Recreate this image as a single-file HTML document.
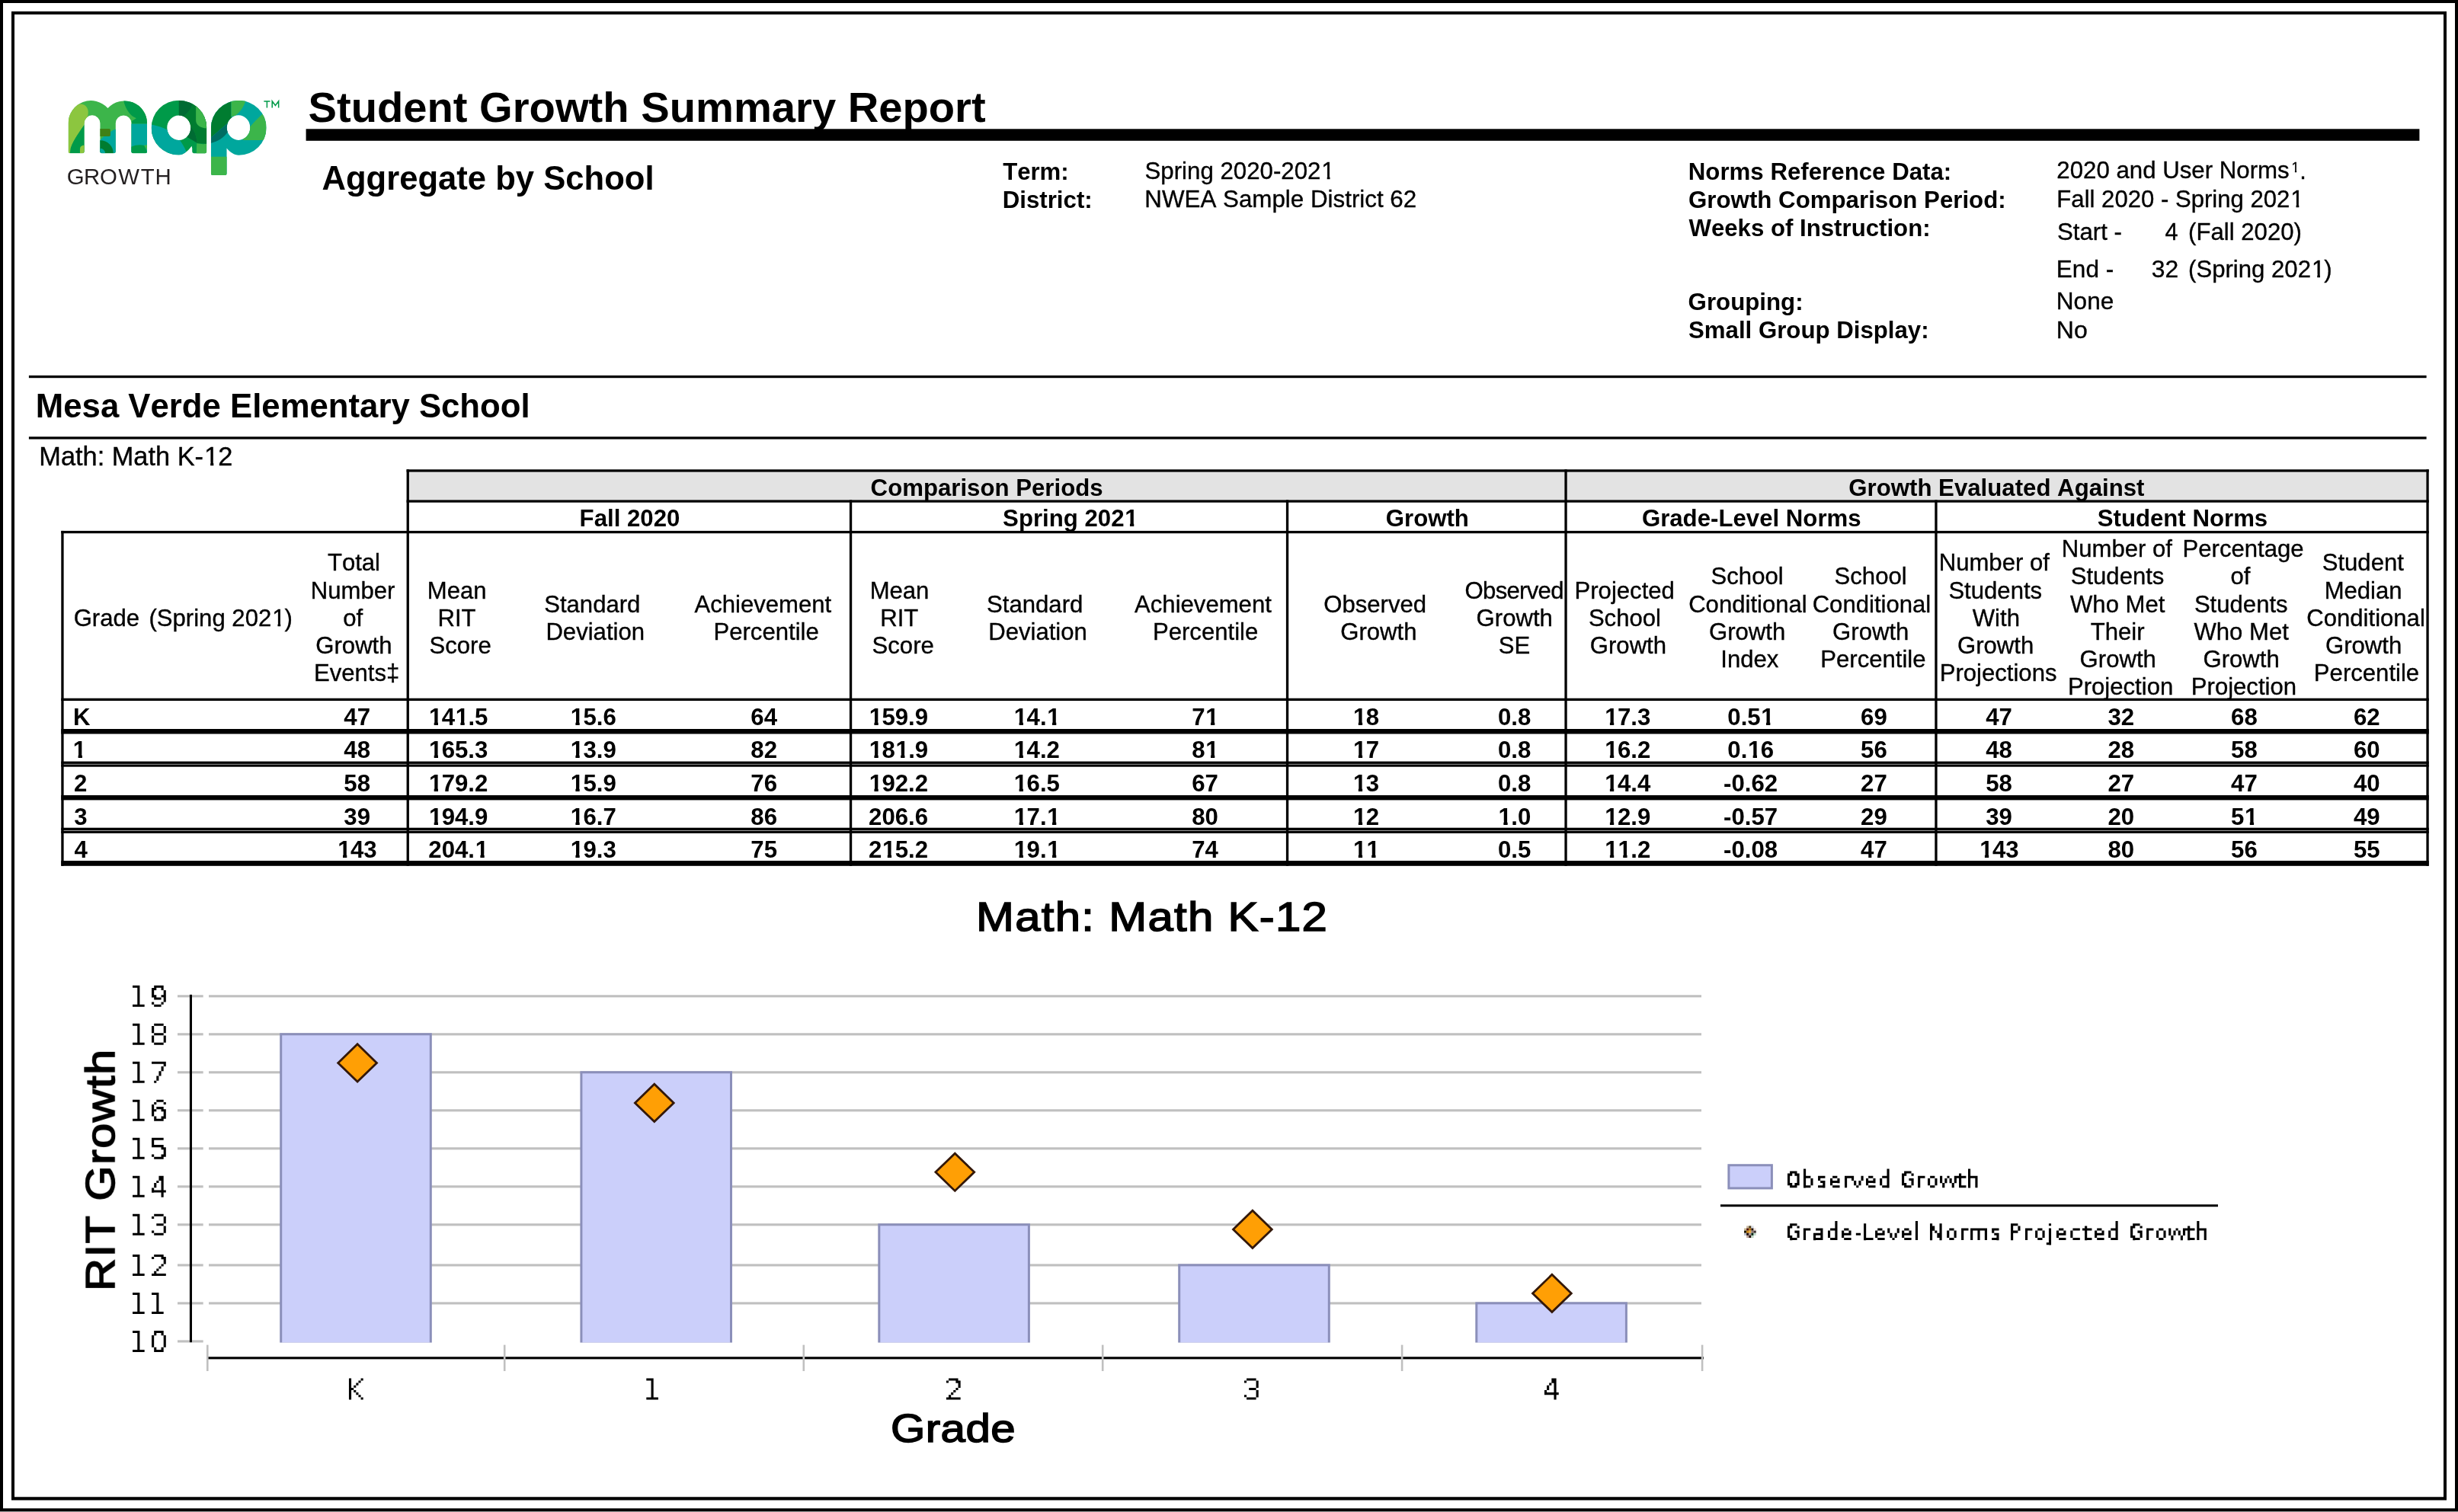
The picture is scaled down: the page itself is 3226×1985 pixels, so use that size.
<!DOCTYPE html>
<html><head><meta charset="utf-8"><title>Student Growth Summary Report</title>
<style>
html,body{margin:0;padding:0;background:#fff;}
body{width:3226px;height:1985px;position:relative;overflow:hidden;font-family:"Liberation Sans",sans-serif;color:#000;font-kerning:none;}
.t{position:absolute;white-space:pre;line-height:1;}
.c{color:#000;}
.o,.ob{display:inline-block;line-height:1;position:relative;left:.03em;}
.ob{left:.02em;}
.o{clip-path:polygon(0 0,100% 0,100% .70em,.356em .70em,.356em 100%,.236em 100%,.236em .70em,0 .70em);}
.ob{clip-path:polygon(0 0,100% 0,100% .665em,.387em .665em,.387em 100%,.217em 100%,.217em .665em,0 .665em);}
svg{position:absolute;left:0;top:0;}
#txt{position:absolute;left:0;top:0;width:3226px;height:1985px;will-change:transform;}
</style></head><body>
<svg width="3226" height="1985" viewBox="0 0 3226 1985">
<path fill="#000" fill-rule="evenodd" d="M0 0H3226V1984.3H0Z M4 4V1980.3H3222V4Z"/>
<path fill="#000" fill-rule="evenodd" d="M15 15H3211V1969.4H15Z M19 19V1965.3H3207V19Z"/>
<rect x="0.00" y="1984.30" width="3226.00" height="0.70" fill="#888" />
<rect x="401.60" y="169.30" width="2773.80" height="15.50" fill="#000" />
<rect x="37.90" y="492.90" width="3146.70" height="3.30" fill="#000" />
<rect x="37.90" y="573.30" width="3146.70" height="3.30" fill="#000" />
<rect x="536.90" y="619.50" width="2647.50" height="37.00" fill="#e3e3e3" />
<rect x="80.30" y="696.90" width="3.30" height="439.90" fill="#000" />
<rect x="533.60" y="616.30" width="3.30" height="520.50" fill="#000" />
<rect x="1114.90" y="656.40" width="3.30" height="480.40" fill="#000" />
<rect x="1687.90" y="656.40" width="3.30" height="480.40" fill="#000" />
<rect x="2053.40" y="616.30" width="3.30" height="520.50" fill="#000" />
<rect x="2539.30" y="656.40" width="3.30" height="480.40" fill="#000" />
<rect x="3184.40" y="616.30" width="3.30" height="520.50" fill="#000" />
<rect x="533.60" y="616.30" width="2654.10" height="3.30" fill="#000" />
<rect x="533.60" y="656.40" width="2654.10" height="3.30" fill="#000" />
<rect x="80.30" y="696.90" width="3107.40" height="3.30" fill="#000" />
<rect x="80.30" y="916.70" width="3107.40" height="3.30" fill="#000" />
<rect x="80.30" y="957.00" width="3107.40" height="6.50" fill="#000" />
<rect x="80.30" y="999.60" width="3107.40" height="3.30" fill="#000" />
<rect x="80.30" y="1003.50" width="3107.40" height="3.20" fill="#000" />
<rect x="80.30" y="1044.00" width="3107.40" height="6.40" fill="#000" />
<rect x="80.30" y="1086.70" width="3107.40" height="3.40" fill="#000" />
<rect x="80.30" y="1090.70" width="3107.40" height="3.30" fill="#000" />
<rect x="80.30" y="1130.00" width="3107.40" height="6.80" fill="#000" />
<rect x="274.00" y="1306.25" width="1959.00" height="3.12" fill="#c0c0c0" />
<rect x="274.00" y="1356.25" width="1959.00" height="3.12" fill="#c0c0c0" />
<rect x="274.00" y="1406.25" width="1959.00" height="3.12" fill="#c0c0c0" />
<rect x="274.00" y="1456.25" width="1959.00" height="3.12" fill="#c0c0c0" />
<rect x="274.00" y="1506.25" width="1959.00" height="3.12" fill="#c0c0c0" />
<rect x="274.00" y="1556.25" width="1959.00" height="3.12" fill="#c0c0c0" />
<rect x="274.00" y="1606.25" width="1959.00" height="3.12" fill="#c0c0c0" />
<rect x="274.00" y="1659.38" width="1959.00" height="3.12" fill="#c0c0c0" />
<rect x="274.00" y="1709.38" width="1959.00" height="3.12" fill="#c0c0c0" />
<rect x="233.00" y="1306.25" width="33.70" height="3.12" fill="#c0c0c0" />
<rect x="233.00" y="1356.25" width="33.70" height="3.12" fill="#c0c0c0" />
<rect x="233.00" y="1406.25" width="33.70" height="3.12" fill="#c0c0c0" />
<rect x="233.00" y="1456.25" width="33.70" height="3.12" fill="#c0c0c0" />
<rect x="233.00" y="1506.25" width="33.70" height="3.12" fill="#c0c0c0" />
<rect x="233.00" y="1556.25" width="33.70" height="3.12" fill="#c0c0c0" />
<rect x="233.00" y="1606.25" width="33.70" height="3.12" fill="#c0c0c0" />
<rect x="233.00" y="1659.38" width="33.70" height="3.12" fill="#c0c0c0" />
<rect x="233.00" y="1709.38" width="33.70" height="3.12" fill="#c0c0c0" />
<rect x="233.00" y="1759.38" width="33.70" height="3.12" fill="#c0c0c0" />
<rect x="248.90" y="1305.80" width="3.10" height="456.40" fill="#000" />
<rect x="368.70" y="1357.75" width="196.60" height="406.35" fill="#cbcffa" stroke="#8b8fba" stroke-width="3"/>
<rect x="762.90" y="1407.75" width="196.60" height="356.35" fill="#cbcffa" stroke="#8b8fba" stroke-width="3"/>
<rect x="1153.80" y="1607.75" width="196.60" height="156.35" fill="#cbcffa" stroke="#8b8fba" stroke-width="3"/>
<rect x="1547.70" y="1660.88" width="196.60" height="103.22" fill="#cbcffa" stroke="#8b8fba" stroke-width="3"/>
<rect x="1937.80" y="1710.88" width="196.60" height="53.22" fill="#cbcffa" stroke="#8b8fba" stroke-width="3"/>
<rect x="360.00" y="1762.60" width="1800.00" height="4.00" fill="#fff" />
<rect x="271.00" y="1781.25" width="1965.00" height="3.12" fill="#000" />
<rect x="271.00" y="1765.60" width="2.60" height="34.40" fill="#c0c0c0" />
<rect x="660.90" y="1765.60" width="2.60" height="34.40" fill="#c0c0c0" />
<rect x="1053.50" y="1765.60" width="2.60" height="34.40" fill="#c0c0c0" />
<rect x="1445.90" y="1765.60" width="2.60" height="34.40" fill="#c0c0c0" />
<rect x="1838.80" y="1765.60" width="2.60" height="34.40" fill="#c0c0c0" />
<rect x="2232.80" y="1765.60" width="2.60" height="34.40" fill="#c0c0c0" />
<path d="M443.7 1395.4L469.1 1370.8L494.5 1395.4L469.1 1420.0Z" fill="#ff9f05" stroke="#33180a" stroke-width="2.8" stroke-linejoin="miter"/>
<path d="M833.4 1447.9L858.8 1423.3L884.2 1447.9L858.8 1472.5Z" fill="#ff9f05" stroke="#33180a" stroke-width="2.8" stroke-linejoin="miter"/>
<path d="M1227.9 1538.8L1253.3 1514.2L1278.7 1538.8L1253.3 1563.4Z" fill="#ff9f05" stroke="#33180a" stroke-width="2.8" stroke-linejoin="miter"/>
<path d="M1618.5 1613.9L1643.9 1589.3L1669.3 1613.9L1643.9 1638.5Z" fill="#ff9f05" stroke="#33180a" stroke-width="2.8" stroke-linejoin="miter"/>
<path d="M2011.5 1697.9L2036.9 1673.3L2062.3 1697.9L2036.9 1722.5Z" fill="#ff9f05" stroke="#33180a" stroke-width="2.8" stroke-linejoin="miter"/>
<rect x="2268.9" y="1529.7" width="56.5" height="30.2" fill="#cbcffa" stroke="#8b8fba" stroke-width="3"/>
<rect x="2258.00" y="1581.25" width="653.00" height="3.00" fill="#000" />
<rect x="2292.18" y="1609.38" width="3.20" height="3.20" fill="#c8b69a" />
<rect x="2295.30" y="1609.38" width="3.20" height="3.20" fill="#4a3a18" />
<rect x="2298.43" y="1609.38" width="3.20" height="3.20" fill="#d8dce6" />
<rect x="2289.05" y="1612.50" width="3.20" height="3.20" fill="#c6b694" />
<rect x="2292.18" y="1612.50" width="3.20" height="3.20" fill="#4e1000" />
<rect x="2295.30" y="1612.50" width="3.20" height="3.20" fill="#b36a00" />
<rect x="2298.43" y="1612.50" width="3.20" height="3.20" fill="#1e0e08" />
<rect x="2301.55" y="1612.50" width="3.20" height="3.20" fill="#efe2dc" />
<rect x="2289.05" y="1615.62" width="3.20" height="3.20" fill="#1e1600" />
<rect x="2292.18" y="1615.62" width="3.20" height="3.20" fill="#c8820a" />
<rect x="2295.30" y="1615.62" width="3.20" height="3.20" fill="#e8a838" />
<rect x="2298.43" y="1615.62" width="3.20" height="3.20" fill="#8e7c78" />
<rect x="2301.55" y="1615.62" width="3.20" height="3.20" fill="#3e3030" />
<rect x="2289.05" y="1618.75" width="3.20" height="3.20" fill="#b8bcc8" />
<rect x="2292.18" y="1618.75" width="3.20" height="3.20" fill="#1e0c0c" />
<rect x="2295.30" y="1618.75" width="3.20" height="3.20" fill="#a89090" />
<rect x="2298.43" y="1618.75" width="3.20" height="3.20" fill="#062814" />
<rect x="2301.55" y="1618.75" width="3.20" height="3.20" fill="#c4dccc" />
<rect x="2292.18" y="1621.88" width="3.20" height="3.20" fill="#b8a098" />
<rect x="2295.30" y="1621.88" width="3.20" height="3.20" fill="#1e0c08" />
<rect x="2298.43" y="1621.88" width="3.20" height="3.20" fill="#c0d8c4" />
<defs>
<clipPath id="cm"><path d="M112 920V485A345 345 0 0 1 715 257A345 345 0 0 1 1315 485V920Q1315 945 1290 945H1100Q1075 945 1075 920V485A120 120 0 0 0 835 485V920Q835 945 810 945H623Q598 945 598 920V486A121.5 121.5 0 0 0 355 486V920Q355 945 330 945H137Q112 945 112 920Z"/></clipPath>
<clipPath id="ca"><path clip-rule="evenodd" d="M1995 835C1950 900 1870 972 1797 972A417 417 0 0 1 1380 555A417 417 0 0 1 1797 138A428 417 0 0 1 2225 555V920Q2225 945 2200 945H2028Q2003 945 2003 920V870Z M1980 555A180 190 0 1 0 1620 555A180 190 0 1 0 1980 555Z"/></clipPath>
<clipPath id="cp"><path clip-rule="evenodd" d="M465 1360V602A460 452 0 0 1 925 150A456 452 0 0 1 1381 602A456 452 0 0 1 925 1054C850 1054 780 1010 725 940V1360Q725 1385 700 1385H490Q465 1385 465 1360Z M1112 600A192 205 0 1 0 728 600A192 205 0 1 0 1112 600Z"/></clipPath>
</defs>
<g transform="translate(80 120) scale(0.085985)">
<g clip-path="url(#cm)">
<rect x="0" y="0" width="1400" height="1000" fill="#3cb54a"/>
<path fill="#8cc63f" d="M0 0L250 120L250 200C330 170 405 215 415 300C420 380 385 460 355 510C300 600 200 720 150 860L135 960L0 960Z"/>
<path fill="#009a49" d="M360 503C300 600 200 720 150 860L135 960L360 960Z"/>
<path fill="#8cc63f" d="M290 960V880Q290 822 360 820V960Z"/>
<path fill="#009a49" d="M955 100L955 135C975 240 1030 330 1095 380L1150 410L1085 450L1078 495L1330 495L1330 100Z"/>
<rect x="1070" y="495" width="270" height="480" fill="#00a79d"/>
<path fill="#009a49" d="M1070 845Q1170 805 1275 825L1330 960L1070 960Z"/>
<path fill="#3cb54a" d="M1268 822L1330 815L1330 930Z"/>
<path fill="#00a79d" d="M845 572C760 602 660 672 590 752L590 960L845 960Z"/>
<path fill="#3f8116" d="M590 570H735Q755 570 755 590V665Q755 685 735 685H590Z"/>
<circle cx="598" cy="948" r="202" fill="#007c30"/>
<circle cx="598" cy="948" r="78" fill="#00a79d"/>
</g>
<g clip-path="url(#ca)">
<rect x="1350" y="100" width="900" height="900" fill="#009a49"/>
<path fill="#007c30" d="M2010 100L2010 185C1990 260 1950 320 1890 365L1800 555L1985 540C2040 600 2075 700 2075 790L2240 800L2240 100Z"/>
<path fill="#006b33" d="M1800 100V555L1890 365C1950 320 1990 260 2010 185L2010 100Z"/>
<path fill="#3cb54a" d="M2060 100V440C2060 520 2130 560 2225 565L2240 565V100Z"/>
<path fill="#006b33" d="M1985 540C2040 600 2075 700 2075 785L1930 700L1800 555Z"/>
<path fill="#00a79d" d="M1350 498C1450 520 1550 545 1625 588L1800 555L1815 745C1850 800 1890 860 1912 915L1900 1000L1350 1000Z"/>
<path fill="#3cb54a" d="M2072 795Q2150 810 2240 800V960H2068Z"/>
</g>
</g>
<g transform="translate(240 120) scale(0.079365)">
<g clip-path="url(#cp)">
<rect x="400" y="100" width="1050" height="1350" fill="#00a79d"/>
<path fill="#007c30" d="M440 100H800V420L920 600L735 530L440 782Z"/>
<path fill="#3cb54a" d="M800 100V420L870 400C950 340 1010 250 1035 165L1035 100Z"/>
<path fill="#3cb54a" d="M1322 368Q1200 480 1120 575L920 600L1000 805L1420 805L1420 368Z"/>
<path fill="#006d62" d="M440 782L735 530L920 600L735 680C680 760 580 830 440 862Z"/>
<rect x="440" y="1080" width="320" height="340" fill="#3cb54a"/>
</g>
<path fill="none" stroke="#009a49" stroke-width="19" d="M1340 163H1442M1391 163V272M1477 272V160L1530 232L1583 160V272"/>
</g>
<path fill="#000" d="M174.05 1293.75h9.38v3.12h-9.38zM180.30 1296.88h3.12v3.12h-3.12zM180.30 1300.00h3.12v3.12h-3.12zM180.30 1303.12h3.12v3.12h-3.12zM180.30 1306.25h3.12v3.12h-3.12zM180.30 1309.38h3.12v3.12h-3.12zM180.30 1312.50h3.12v3.12h-3.12zM180.30 1315.62h3.12v3.12h-3.12zM174.05 1318.75h15.62v3.12h-15.62zM180.30 1293.75h3.12v28.12h-3.12zM202.18 1293.75h12.50v3.12h-12.50zM199.05 1296.88h6.25v3.12h-6.25zM211.55 1296.88h3.12v3.12h-3.12zM199.05 1300.00h3.12v3.12h-3.12zM214.68 1300.00h3.12v3.12h-3.12zM199.05 1303.12h3.12v3.12h-3.12zM214.68 1303.12h3.12v3.12h-3.12zM199.05 1306.25h6.25v3.12h-6.25zM211.55 1306.25h6.25v3.12h-6.25zM202.18 1309.38h9.38v3.12h-9.38zM214.68 1309.38h3.12v3.12h-3.12zM214.68 1312.50h3.12v3.12h-3.12zM199.05 1315.62h3.12v3.12h-3.12zM211.55 1315.62h3.12v3.12h-3.12zM202.18 1318.75h9.38v3.12h-9.38zM199.05 1296.88h3.12v12.50h-3.12zM202.18 1293.75h3.12v6.25h-3.12zM202.18 1306.25h3.12v6.25h-3.12zM211.55 1293.75h3.12v6.25h-3.12zM214.68 1300.00h3.12v15.62h-3.12zM174.05 1343.75h9.38v3.12h-9.38zM180.30 1346.88h3.12v3.12h-3.12zM180.30 1350.00h3.12v3.12h-3.12zM180.30 1353.12h3.12v3.12h-3.12zM180.30 1356.25h3.12v3.12h-3.12zM180.30 1359.38h3.12v3.12h-3.12zM180.30 1362.50h3.12v3.12h-3.12zM180.30 1365.62h3.12v3.12h-3.12zM174.05 1368.75h15.62v3.12h-15.62zM180.30 1343.75h3.12v28.12h-3.12zM202.18 1343.75h12.50v3.12h-12.50zM199.05 1346.88h3.12v3.12h-3.12zM214.68 1346.88h3.12v3.12h-3.12zM199.05 1350.00h3.12v3.12h-3.12zM214.68 1350.00h3.12v3.12h-3.12zM199.05 1353.12h3.12v3.12h-3.12zM214.68 1353.12h3.12v3.12h-3.12zM202.18 1356.25h12.50v3.12h-12.50zM199.05 1359.38h3.12v3.12h-3.12zM214.68 1359.38h3.12v3.12h-3.12zM199.05 1362.50h3.12v3.12h-3.12zM214.68 1362.50h3.12v3.12h-3.12zM199.05 1365.62h3.12v3.12h-3.12zM214.68 1365.62h3.12v3.12h-3.12zM202.18 1368.75h12.50v3.12h-12.50zM199.05 1346.88h3.12v9.38h-3.12zM199.05 1359.38h3.12v9.38h-3.12zM214.68 1346.88h3.12v9.38h-3.12zM214.68 1359.38h3.12v9.38h-3.12zM174.05 1393.75h9.38v3.12h-9.38zM180.30 1396.88h3.12v3.12h-3.12zM180.30 1400.00h3.12v3.12h-3.12zM180.30 1403.12h3.12v3.12h-3.12zM180.30 1406.25h3.12v3.12h-3.12zM180.30 1409.38h3.12v3.12h-3.12zM180.30 1412.50h3.12v3.12h-3.12zM180.30 1415.62h3.12v3.12h-3.12zM174.05 1418.75h15.62v3.12h-15.62zM180.30 1393.75h3.12v28.12h-3.12zM199.05 1393.75h18.75v3.12h-18.75zM214.68 1396.88h3.12v3.12h-3.12zM211.55 1400.00h3.12v3.12h-3.12zM211.55 1403.12h3.12v3.12h-3.12zM208.43 1406.25h3.12v3.12h-3.12zM208.43 1409.38h3.12v3.12h-3.12zM205.30 1412.50h3.12v3.12h-3.12zM205.30 1415.62h3.12v3.12h-3.12zM202.18 1418.75h3.12v3.12h-3.12zM205.30 1412.50h3.12v6.25h-3.12zM208.43 1406.25h3.12v6.25h-3.12zM211.55 1400.00h3.12v6.25h-3.12zM214.68 1393.75h3.12v6.25h-3.12zM174.05 1443.75h9.38v3.12h-9.38zM180.30 1446.88h3.12v3.12h-3.12zM180.30 1450.00h3.12v3.12h-3.12zM180.30 1453.12h3.12v3.12h-3.12zM180.30 1456.25h3.12v3.12h-3.12zM180.30 1459.38h3.12v3.12h-3.12zM180.30 1462.50h3.12v3.12h-3.12zM180.30 1465.62h3.12v3.12h-3.12zM174.05 1468.75h15.62v3.12h-15.62zM180.30 1443.75h3.12v28.12h-3.12zM205.30 1443.75h9.38v3.12h-9.38zM202.18 1446.88h3.12v3.12h-3.12zM214.68 1446.88h3.12v3.12h-3.12zM199.05 1450.00h3.12v3.12h-3.12zM199.05 1453.12h3.12v3.12h-3.12zM205.30 1453.12h9.38v3.12h-9.38zM199.05 1456.25h6.25v3.12h-6.25zM211.55 1456.25h6.25v3.12h-6.25zM199.05 1459.38h3.12v3.12h-3.12zM214.68 1459.38h3.12v3.12h-3.12zM199.05 1462.50h3.12v3.12h-3.12zM214.68 1462.50h3.12v3.12h-3.12zM202.18 1465.62h3.12v3.12h-3.12zM211.55 1465.62h6.25v3.12h-6.25zM202.18 1468.75h12.50v3.12h-12.50zM199.05 1450.00h3.12v15.62h-3.12zM202.18 1465.62h3.12v6.25h-3.12zM211.55 1453.12h3.12v6.25h-3.12zM211.55 1465.62h3.12v6.25h-3.12zM214.68 1456.25h3.12v12.50h-3.12zM174.05 1493.75h9.38v3.12h-9.38zM180.30 1496.88h3.12v3.12h-3.12zM180.30 1500.00h3.12v3.12h-3.12zM180.30 1503.12h3.12v3.12h-3.12zM180.30 1506.25h3.12v3.12h-3.12zM180.30 1509.38h3.12v3.12h-3.12zM180.30 1512.50h3.12v3.12h-3.12zM180.30 1515.62h3.12v3.12h-3.12zM174.05 1518.75h15.62v3.12h-15.62zM180.30 1493.75h3.12v28.12h-3.12zM199.05 1493.75h15.62v3.12h-15.62zM199.05 1496.88h3.12v3.12h-3.12zM199.05 1500.00h3.12v3.12h-3.12zM199.05 1503.12h15.62v3.12h-15.62zM211.55 1506.25h6.25v3.12h-6.25zM214.68 1509.38h3.12v3.12h-3.12zM214.68 1512.50h3.12v3.12h-3.12zM199.05 1515.62h3.12v3.12h-3.12zM211.55 1515.62h6.25v3.12h-6.25zM202.18 1518.75h12.50v3.12h-12.50zM199.05 1493.75h3.12v12.50h-3.12zM211.55 1503.12h3.12v6.25h-3.12zM211.55 1515.62h3.12v6.25h-3.12zM214.68 1506.25h3.12v12.50h-3.12zM174.05 1543.75h9.38v3.12h-9.38zM180.30 1546.88h3.12v3.12h-3.12zM180.30 1550.00h3.12v3.12h-3.12zM180.30 1553.12h3.12v3.12h-3.12zM180.30 1556.25h3.12v3.12h-3.12zM180.30 1559.38h3.12v3.12h-3.12zM180.30 1562.50h3.12v3.12h-3.12zM180.30 1565.62h3.12v3.12h-3.12zM174.05 1568.75h15.62v3.12h-15.62zM180.30 1543.75h3.12v28.12h-3.12zM208.43 1543.75h6.25v3.12h-6.25zM208.43 1546.88h6.25v3.12h-6.25zM205.30 1550.00h3.12v3.12h-3.12zM211.55 1550.00h3.12v3.12h-3.12zM202.18 1553.12h3.12v3.12h-3.12zM211.55 1553.12h3.12v3.12h-3.12zM202.18 1556.25h3.12v3.12h-3.12zM211.55 1556.25h3.12v3.12h-3.12zM199.05 1559.38h3.12v3.12h-3.12zM211.55 1559.38h3.12v3.12h-3.12zM199.05 1562.50h18.75v3.12h-18.75zM211.55 1565.62h3.12v3.12h-3.12zM211.55 1568.75h3.12v3.12h-3.12zM199.05 1559.38h3.12v6.25h-3.12zM202.18 1553.12h3.12v6.25h-3.12zM208.43 1543.75h3.12v6.25h-3.12zM211.55 1543.75h3.12v28.12h-3.12zM174.05 1593.75h9.38v3.12h-9.38zM180.30 1596.88h3.12v3.12h-3.12zM180.30 1600.00h3.12v3.12h-3.12zM180.30 1603.12h3.12v3.12h-3.12zM180.30 1606.25h3.12v3.12h-3.12zM180.30 1609.38h3.12v3.12h-3.12zM180.30 1612.50h3.12v3.12h-3.12zM180.30 1615.62h3.12v3.12h-3.12zM174.05 1618.75h15.62v3.12h-15.62zM180.30 1593.75h3.12v28.12h-3.12zM202.18 1593.75h12.50v3.12h-12.50zM199.05 1596.88h3.12v3.12h-3.12zM214.68 1596.88h3.12v3.12h-3.12zM214.68 1600.00h3.12v3.12h-3.12zM214.68 1603.12h3.12v3.12h-3.12zM205.30 1606.25h9.38v3.12h-9.38zM214.68 1609.38h3.12v3.12h-3.12zM214.68 1612.50h3.12v3.12h-3.12zM199.05 1615.62h3.12v3.12h-3.12zM214.68 1615.62h3.12v3.12h-3.12zM202.18 1618.75h12.50v3.12h-12.50zM214.68 1596.88h3.12v9.38h-3.12zM214.68 1609.38h3.12v9.38h-3.12zM174.05 1646.88h9.38v3.12h-9.38zM180.30 1650.00h3.12v3.12h-3.12zM180.30 1653.12h3.12v3.12h-3.12zM180.30 1656.25h3.12v3.12h-3.12zM180.30 1659.38h3.12v3.12h-3.12zM180.30 1662.50h3.12v3.12h-3.12zM180.30 1665.62h3.12v3.12h-3.12zM180.30 1668.75h3.12v3.12h-3.12zM174.05 1671.88h15.62v3.12h-15.62zM180.30 1646.88h3.12v28.12h-3.12zM202.18 1646.88h12.50v3.12h-12.50zM199.05 1650.00h3.12v3.12h-3.12zM211.55 1650.00h6.25v3.12h-6.25zM214.68 1653.12h3.12v3.12h-3.12zM214.68 1656.25h3.12v3.12h-3.12zM211.55 1659.38h3.12v3.12h-3.12zM208.43 1662.50h3.12v3.12h-3.12zM205.30 1665.62h3.12v3.12h-3.12zM202.18 1668.75h3.12v3.12h-3.12zM199.05 1671.88h18.75v3.12h-18.75zM202.18 1668.75h3.12v6.25h-3.12zM211.55 1646.88h3.12v6.25h-3.12zM214.68 1650.00h3.12v9.38h-3.12zM174.05 1696.88h9.38v3.12h-9.38zM180.30 1700.00h3.12v3.12h-3.12zM180.30 1703.12h3.12v3.12h-3.12zM180.30 1706.25h3.12v3.12h-3.12zM180.30 1709.38h3.12v3.12h-3.12zM180.30 1712.50h3.12v3.12h-3.12zM180.30 1715.62h3.12v3.12h-3.12zM180.30 1718.75h3.12v3.12h-3.12zM174.05 1721.88h15.62v3.12h-15.62zM180.30 1696.88h3.12v28.12h-3.12zM199.05 1696.88h9.38v3.12h-9.38zM205.30 1700.00h3.12v3.12h-3.12zM205.30 1703.12h3.12v3.12h-3.12zM205.30 1706.25h3.12v3.12h-3.12zM205.30 1709.38h3.12v3.12h-3.12zM205.30 1712.50h3.12v3.12h-3.12zM205.30 1715.62h3.12v3.12h-3.12zM205.30 1718.75h3.12v3.12h-3.12zM199.05 1721.88h15.62v3.12h-15.62zM205.30 1696.88h3.12v28.12h-3.12zM174.05 1746.88h9.38v3.12h-9.38zM180.30 1750.00h3.12v3.12h-3.12zM180.30 1753.12h3.12v3.12h-3.12zM180.30 1756.25h3.12v3.12h-3.12zM180.30 1759.38h3.12v3.12h-3.12zM180.30 1762.50h3.12v3.12h-3.12zM180.30 1765.62h3.12v3.12h-3.12zM180.30 1768.75h3.12v3.12h-3.12zM174.05 1771.88h15.62v3.12h-15.62zM180.30 1746.88h3.12v28.12h-3.12zM202.18 1746.88h12.50v3.12h-12.50zM202.18 1750.00h3.12v3.12h-3.12zM211.55 1750.00h3.12v3.12h-3.12zM199.05 1753.12h3.12v3.12h-3.12zM214.68 1753.12h3.12v3.12h-3.12zM199.05 1756.25h3.12v3.12h-3.12zM214.68 1756.25h3.12v3.12h-3.12zM199.05 1759.38h3.12v3.12h-3.12zM214.68 1759.38h3.12v3.12h-3.12zM199.05 1762.50h3.12v3.12h-3.12zM214.68 1762.50h3.12v3.12h-3.12zM199.05 1765.62h3.12v3.12h-3.12zM214.68 1765.62h3.12v3.12h-3.12zM202.18 1768.75h3.12v3.12h-3.12zM211.55 1768.75h3.12v3.12h-3.12zM202.18 1771.88h12.50v3.12h-12.50zM199.05 1753.12h3.12v15.62h-3.12zM202.18 1746.88h3.12v6.25h-3.12zM202.18 1768.75h3.12v6.25h-3.12zM211.55 1746.88h3.12v6.25h-3.12zM211.55 1768.75h3.12v6.25h-3.12zM214.68 1753.12h3.12v15.62h-3.12zM457.95 1809.38h3.12v3.12h-3.12zM473.57 1809.38h3.12v3.12h-3.12zM457.95 1812.50h3.12v3.12h-3.12zM470.45 1812.50h3.12v3.12h-3.12zM457.95 1815.62h3.12v3.12h-3.12zM467.32 1815.62h3.12v3.12h-3.12zM457.95 1818.75h3.12v3.12h-3.12zM464.20 1818.75h3.12v3.12h-3.12zM457.95 1821.88h6.25v3.12h-6.25zM457.95 1825.00h3.12v3.12h-3.12zM464.20 1825.00h3.12v3.12h-3.12zM457.95 1828.12h3.12v3.12h-3.12zM467.32 1828.12h3.12v3.12h-3.12zM457.95 1831.25h3.12v3.12h-3.12zM470.45 1831.25h3.12v3.12h-3.12zM457.95 1834.38h3.12v3.12h-3.12zM473.57 1834.38h3.12v3.12h-3.12zM457.95 1809.38h3.12v28.12h-3.12zM848.30 1809.38h9.38v3.12h-9.38zM854.55 1812.50h3.12v3.12h-3.12zM854.55 1815.62h3.12v3.12h-3.12zM854.55 1818.75h3.12v3.12h-3.12zM854.55 1821.88h3.12v3.12h-3.12zM854.55 1825.00h3.12v3.12h-3.12zM854.55 1828.12h3.12v3.12h-3.12zM854.55 1831.25h3.12v3.12h-3.12zM848.30 1834.38h15.62v3.12h-15.62zM854.55 1809.38h3.12v28.12h-3.12zM1245.03 1809.38h12.50v3.12h-12.50zM1241.90 1812.50h3.12v3.12h-3.12zM1254.40 1812.50h6.25v3.12h-6.25zM1257.53 1815.62h3.12v3.12h-3.12zM1257.53 1818.75h3.12v3.12h-3.12zM1254.40 1821.88h3.12v3.12h-3.12zM1251.28 1825.00h3.12v3.12h-3.12zM1248.15 1828.12h3.12v3.12h-3.12zM1245.03 1831.25h3.12v3.12h-3.12zM1241.90 1834.38h18.75v3.12h-18.75zM1245.03 1831.25h3.12v6.25h-3.12zM1254.40 1809.38h3.12v6.25h-3.12zM1257.53 1812.50h3.12v9.38h-3.12zM1636.08 1809.38h12.50v3.12h-12.50zM1632.95 1812.50h3.12v3.12h-3.12zM1648.58 1812.50h3.12v3.12h-3.12zM1648.58 1815.62h3.12v3.12h-3.12zM1648.58 1818.75h3.12v3.12h-3.12zM1639.20 1821.88h9.38v3.12h-9.38zM1648.58 1825.00h3.12v3.12h-3.12zM1648.58 1828.12h3.12v3.12h-3.12zM1632.95 1831.25h3.12v3.12h-3.12zM1648.58 1831.25h3.12v3.12h-3.12zM1636.08 1834.38h12.50v3.12h-12.50zM1648.58 1812.50h3.12v9.38h-3.12zM1648.58 1825.00h3.12v9.38h-3.12zM2036.34 1809.38h6.25v3.12h-6.25zM2036.34 1812.50h6.25v3.12h-6.25zM2033.21 1815.62h3.12v3.12h-3.12zM2039.46 1815.62h3.12v3.12h-3.12zM2030.09 1818.75h3.12v3.12h-3.12zM2039.46 1818.75h3.12v3.12h-3.12zM2030.09 1821.88h3.12v3.12h-3.12zM2039.46 1821.88h3.12v3.12h-3.12zM2026.96 1825.00h3.12v3.12h-3.12zM2039.46 1825.00h3.12v3.12h-3.12zM2026.96 1828.12h18.75v3.12h-18.75zM2039.46 1831.25h3.12v3.12h-3.12zM2039.46 1834.38h3.12v3.12h-3.12zM2026.96 1825.00h3.12v6.25h-3.12zM2030.09 1818.75h3.12v6.25h-3.12zM2036.34 1809.38h3.12v6.25h-3.12zM2039.46 1809.38h3.12v28.12h-3.12zM2349.12 1537.50h9.38v3.12h-9.38zM2346.00 1540.62h6.25v3.12h-6.25zM2355.38 1540.62h6.25v3.12h-6.25zM2346.00 1543.75h3.12v3.12h-3.12zM2358.50 1543.75h3.12v3.12h-3.12zM2346.00 1546.88h3.12v3.12h-3.12zM2358.50 1546.88h3.12v3.12h-3.12zM2346.00 1550.00h3.12v3.12h-3.12zM2358.50 1550.00h3.12v3.12h-3.12zM2346.00 1553.12h6.25v3.12h-6.25zM2355.38 1553.12h6.25v3.12h-6.25zM2349.12 1556.25h9.38v3.12h-9.38zM2346.00 1540.62h3.12v15.62h-3.12zM2349.12 1537.50h3.12v6.25h-3.12zM2349.12 1553.12h3.12v6.25h-3.12zM2355.38 1537.50h3.12v6.25h-3.12zM2355.38 1553.12h3.12v6.25h-3.12zM2358.50 1540.62h3.12v15.62h-3.12zM2367.00 1534.38h3.12v3.12h-3.12zM2367.00 1537.50h3.12v3.12h-3.12zM2367.00 1540.62h3.12v3.12h-3.12zM2367.00 1543.75h9.38v3.12h-9.38zM2367.00 1546.88h3.12v3.12h-3.12zM2376.38 1546.88h3.12v3.12h-3.12zM2367.00 1550.00h3.12v3.12h-3.12zM2376.38 1550.00h3.12v3.12h-3.12zM2367.00 1553.12h3.12v3.12h-3.12zM2376.38 1553.12h3.12v3.12h-3.12zM2367.00 1556.25h9.38v3.12h-9.38zM2367.00 1534.38h3.12v25.00h-3.12zM2376.38 1546.88h3.12v9.38h-3.12zM2386.05 1543.75h9.38v3.12h-9.38zM2386.05 1546.88h3.12v3.12h-3.12zM2389.18 1550.00h6.25v3.12h-6.25zM2392.30 1553.12h3.12v3.12h-3.12zM2386.05 1556.25h9.38v3.12h-9.38zM2386.05 1543.75h3.12v6.25h-3.12zM2392.30 1550.00h3.12v9.38h-3.12zM2405.12 1543.75h6.25v3.12h-6.25zM2402.00 1546.88h3.12v3.12h-3.12zM2411.38 1546.88h3.12v3.12h-3.12zM2402.00 1550.00h12.50v3.12h-12.50zM2402.00 1553.12h3.12v3.12h-3.12zM2405.12 1556.25h9.38v3.12h-9.38zM2402.00 1546.88h3.12v9.38h-3.12zM2411.38 1546.88h3.12v6.25h-3.12zM2421.00 1543.75h9.38v3.12h-9.38zM2421.00 1546.88h3.12v3.12h-3.12zM2421.00 1550.00h3.12v3.12h-3.12zM2421.00 1553.12h3.12v3.12h-3.12zM2421.00 1556.25h3.12v3.12h-3.12zM2421.00 1543.75h3.12v15.62h-3.12zM2430.00 1543.75h3.12v3.12h-3.12zM2442.50 1543.75h3.12v3.12h-3.12zM2430.00 1546.88h3.12v3.12h-3.12zM2442.50 1546.88h3.12v3.12h-3.12zM2433.12 1550.00h3.12v3.12h-3.12zM2439.38 1550.00h3.12v3.12h-3.12zM2433.12 1553.12h3.12v3.12h-3.12zM2439.38 1553.12h3.12v3.12h-3.12zM2436.25 1556.25h3.12v3.12h-3.12zM2430.00 1543.75h3.12v6.25h-3.12zM2433.12 1550.00h3.12v6.25h-3.12zM2439.38 1550.00h3.12v6.25h-3.12zM2442.50 1543.75h3.12v6.25h-3.12zM2452.12 1543.75h6.25v3.12h-6.25zM2449.00 1546.88h3.12v3.12h-3.12zM2458.38 1546.88h3.12v3.12h-3.12zM2449.00 1550.00h12.50v3.12h-12.50zM2449.00 1553.12h3.12v3.12h-3.12zM2452.12 1556.25h9.38v3.12h-9.38zM2449.00 1546.88h3.12v9.38h-3.12zM2458.38 1546.88h3.12v6.25h-3.12zM2476.47 1534.38h3.12v3.12h-3.12zM2476.47 1537.50h3.12v3.12h-3.12zM2476.47 1540.62h3.12v3.12h-3.12zM2470.22 1543.75h9.38v3.12h-9.38zM2467.10 1546.88h3.12v3.12h-3.12zM2476.47 1546.88h3.12v3.12h-3.12zM2467.10 1550.00h3.12v3.12h-3.12zM2476.47 1550.00h3.12v3.12h-3.12zM2467.10 1553.12h3.12v3.12h-3.12zM2476.47 1553.12h3.12v3.12h-3.12zM2470.22 1556.25h9.38v3.12h-9.38zM2467.10 1546.88h3.12v9.38h-3.12zM2476.47 1534.38h3.12v25.00h-3.12zM2499.12 1537.50h9.38v3.12h-9.38zM2496.00 1540.62h6.25v3.12h-6.25zM2508.50 1540.62h3.12v3.12h-3.12zM2496.00 1543.75h3.12v3.12h-3.12zM2496.00 1546.88h3.12v3.12h-3.12zM2505.38 1546.88h6.25v3.12h-6.25zM2496.00 1550.00h3.12v3.12h-3.12zM2508.50 1550.00h3.12v3.12h-3.12zM2496.00 1553.12h6.25v3.12h-6.25zM2508.50 1553.12h3.12v3.12h-3.12zM2499.12 1556.25h9.38v3.12h-9.38zM2496.00 1540.62h3.12v15.62h-3.12zM2499.12 1537.50h3.12v6.25h-3.12zM2499.12 1553.12h3.12v6.25h-3.12zM2508.50 1546.88h3.12v9.38h-3.12zM2517.10 1543.75h9.38v3.12h-9.38zM2517.10 1546.88h3.12v3.12h-3.12zM2517.10 1550.00h3.12v3.12h-3.12zM2517.10 1553.12h3.12v3.12h-3.12zM2517.10 1556.25h3.12v3.12h-3.12zM2517.10 1543.75h3.12v15.62h-3.12zM2533.12 1543.75h6.25v3.12h-6.25zM2530.00 1546.88h3.12v3.12h-3.12zM2539.38 1546.88h3.12v3.12h-3.12zM2530.00 1550.00h3.12v3.12h-3.12zM2539.38 1550.00h3.12v3.12h-3.12zM2530.00 1553.12h3.12v3.12h-3.12zM2539.38 1553.12h3.12v3.12h-3.12zM2533.12 1556.25h6.25v3.12h-6.25zM2530.00 1546.88h3.12v9.38h-3.12zM2539.38 1546.88h3.12v9.38h-3.12zM2546.05 1543.75h3.12v3.12h-3.12zM2555.43 1543.75h3.12v3.12h-3.12zM2564.80 1543.75h3.12v3.12h-3.12zM2546.05 1546.88h3.12v3.12h-3.12zM2552.30 1546.88h3.12v3.12h-3.12zM2558.55 1546.88h3.12v3.12h-3.12zM2564.80 1546.88h3.12v3.12h-3.12zM2546.05 1550.00h3.12v3.12h-3.12zM2552.30 1550.00h3.12v3.12h-3.12zM2558.55 1550.00h3.12v3.12h-3.12zM2564.80 1550.00h3.12v3.12h-3.12zM2549.18 1553.12h3.12v3.12h-3.12zM2561.68 1553.12h3.12v3.12h-3.12zM2549.18 1556.25h3.12v3.12h-3.12zM2561.68 1556.25h3.12v3.12h-3.12zM2546.05 1543.75h3.12v9.38h-3.12zM2549.18 1553.12h3.12v6.25h-3.12zM2552.30 1546.88h3.12v6.25h-3.12zM2558.55 1546.88h3.12v6.25h-3.12zM2561.68 1553.12h3.12v6.25h-3.12zM2564.80 1543.75h3.12v9.38h-3.12zM2571.03 1540.62h3.12v3.12h-3.12zM2567.90 1543.75h12.50v3.12h-12.50zM2571.03 1546.88h3.12v3.12h-3.12zM2571.03 1550.00h3.12v3.12h-3.12zM2571.03 1553.12h3.12v3.12h-3.12zM2571.03 1556.25h9.38v3.12h-9.38zM2571.03 1540.62h3.12v18.75h-3.12zM2583.00 1534.38h3.12v3.12h-3.12zM2583.00 1537.50h3.12v3.12h-3.12zM2583.00 1540.62h3.12v3.12h-3.12zM2583.00 1543.75h12.50v3.12h-12.50zM2583.00 1546.88h3.12v3.12h-3.12zM2592.38 1546.88h3.12v3.12h-3.12zM2583.00 1550.00h3.12v3.12h-3.12zM2592.38 1550.00h3.12v3.12h-3.12zM2583.00 1553.12h3.12v3.12h-3.12zM2592.38 1553.12h3.12v3.12h-3.12zM2583.00 1556.25h3.12v3.12h-3.12zM2592.38 1556.25h3.12v3.12h-3.12zM2583.00 1534.38h3.12v25.00h-3.12zM2592.38 1543.75h3.12v15.62h-3.12zM2349.16 1606.25h9.38v3.12h-9.38zM2346.03 1609.38h6.25v3.12h-6.25zM2358.53 1609.38h3.12v3.12h-3.12zM2346.03 1612.50h3.12v3.12h-3.12zM2346.03 1615.62h3.12v3.12h-3.12zM2355.41 1615.62h6.25v3.12h-6.25zM2346.03 1618.75h3.12v3.12h-3.12zM2358.53 1618.75h3.12v3.12h-3.12zM2346.03 1621.88h6.25v3.12h-6.25zM2358.53 1621.88h3.12v3.12h-3.12zM2349.16 1625.00h9.38v3.12h-9.38zM2346.03 1609.38h3.12v15.62h-3.12zM2349.16 1606.25h3.12v6.25h-3.12zM2349.16 1621.88h3.12v6.25h-3.12zM2358.53 1615.62h3.12v9.38h-3.12zM2366.90 1612.50h9.38v3.12h-9.38zM2366.90 1615.62h3.12v3.12h-3.12zM2366.90 1618.75h3.12v3.12h-3.12zM2366.90 1621.88h3.12v3.12h-3.12zM2366.90 1625.00h3.12v3.12h-3.12zM2366.90 1612.50h3.12v15.62h-3.12zM2383.09 1612.50h9.38v3.12h-9.38zM2389.34 1615.62h3.12v3.12h-3.12zM2379.96 1618.75h12.50v3.12h-12.50zM2379.96 1621.88h3.12v3.12h-3.12zM2389.34 1621.88h3.12v3.12h-3.12zM2379.96 1625.00h12.50v3.12h-12.50zM2379.96 1618.75h3.12v9.38h-3.12zM2389.34 1612.50h3.12v15.62h-3.12zM2408.36 1603.12h3.12v3.12h-3.12zM2408.36 1606.25h3.12v3.12h-3.12zM2408.36 1609.38h3.12v3.12h-3.12zM2402.11 1612.50h9.38v3.12h-9.38zM2398.98 1615.62h3.12v3.12h-3.12zM2408.36 1615.62h3.12v3.12h-3.12zM2398.98 1618.75h3.12v3.12h-3.12zM2408.36 1618.75h3.12v3.12h-3.12zM2398.98 1621.88h3.12v3.12h-3.12zM2408.36 1621.88h3.12v3.12h-3.12zM2402.11 1625.00h9.38v3.12h-9.38zM2398.98 1615.62h3.12v9.38h-3.12zM2408.36 1603.12h3.12v25.00h-3.12zM2420.20 1612.50h6.25v3.12h-6.25zM2417.07 1615.62h3.12v3.12h-3.12zM2426.45 1615.62h3.12v3.12h-3.12zM2417.07 1618.75h12.50v3.12h-12.50zM2417.07 1621.88h3.12v3.12h-3.12zM2420.20 1625.00h9.38v3.12h-9.38zM2417.07 1615.62h3.12v9.38h-3.12zM2426.45 1615.62h3.12v6.25h-3.12zM2435.85 1618.75h6.25v3.12h-6.25zM2446.05 1606.25h3.12v3.12h-3.12zM2446.05 1609.38h3.12v3.12h-3.12zM2446.05 1612.50h3.12v3.12h-3.12zM2446.05 1615.62h3.12v3.12h-3.12zM2446.05 1618.75h3.12v3.12h-3.12zM2446.05 1621.88h3.12v3.12h-3.12zM2446.05 1625.00h12.50v3.12h-12.50zM2446.05 1606.25h3.12v21.88h-3.12zM2464.22 1612.50h6.25v3.12h-6.25zM2461.10 1615.62h3.12v3.12h-3.12zM2470.47 1615.62h3.12v3.12h-3.12zM2461.10 1618.75h12.50v3.12h-12.50zM2461.10 1621.88h3.12v3.12h-3.12zM2464.22 1625.00h9.38v3.12h-9.38zM2461.10 1615.62h3.12v9.38h-3.12zM2470.47 1615.62h3.12v6.25h-3.12zM2477.20 1612.50h3.12v3.12h-3.12zM2489.70 1612.50h3.12v3.12h-3.12zM2477.20 1615.62h3.12v3.12h-3.12zM2489.70 1615.62h3.12v3.12h-3.12zM2480.32 1618.75h3.12v3.12h-3.12zM2486.57 1618.75h3.12v3.12h-3.12zM2480.32 1621.88h3.12v3.12h-3.12zM2486.57 1621.88h3.12v3.12h-3.12zM2483.45 1625.00h3.12v3.12h-3.12zM2477.20 1612.50h3.12v6.25h-3.12zM2480.32 1618.75h3.12v6.25h-3.12zM2486.57 1618.75h3.12v6.25h-3.12zM2489.70 1612.50h3.12v6.25h-3.12zM2499.22 1612.50h6.25v3.12h-6.25zM2496.10 1615.62h3.12v3.12h-3.12zM2505.47 1615.62h3.12v3.12h-3.12zM2496.10 1618.75h12.50v3.12h-12.50zM2496.10 1621.88h3.12v3.12h-3.12zM2499.22 1625.00h9.38v3.12h-9.38zM2496.10 1615.62h3.12v9.38h-3.12zM2505.47 1615.62h3.12v6.25h-3.12zM2513.90 1603.12h3.12v3.12h-3.12zM2513.90 1606.25h3.12v3.12h-3.12zM2513.90 1609.38h3.12v3.12h-3.12zM2513.90 1612.50h3.12v3.12h-3.12zM2513.90 1615.62h3.12v3.12h-3.12zM2513.90 1618.75h3.12v3.12h-3.12zM2513.90 1621.88h3.12v3.12h-3.12zM2513.90 1625.00h3.12v3.12h-3.12zM2513.90 1603.12h3.12v25.00h-3.12zM2532.99 1606.25h3.12v3.12h-3.12zM2545.49 1606.25h3.12v3.12h-3.12zM2532.99 1609.38h6.25v3.12h-6.25zM2545.49 1609.38h3.12v3.12h-3.12zM2532.99 1612.50h6.25v3.12h-6.25zM2545.49 1612.50h3.12v3.12h-3.12zM2532.99 1615.62h3.12v3.12h-3.12zM2539.24 1615.62h3.12v3.12h-3.12zM2545.49 1615.62h3.12v3.12h-3.12zM2532.99 1618.75h3.12v3.12h-3.12zM2542.36 1618.75h6.25v3.12h-6.25zM2532.99 1621.88h3.12v3.12h-3.12zM2542.36 1621.88h6.25v3.12h-6.25zM2532.99 1625.00h3.12v3.12h-3.12zM2545.49 1625.00h3.12v3.12h-3.12zM2532.99 1606.25h3.12v21.88h-3.12zM2536.11 1609.38h3.12v6.25h-3.12zM2542.36 1618.75h3.12v6.25h-3.12zM2545.49 1606.25h3.12v21.88h-3.12zM2558.30 1612.50h6.25v3.12h-6.25zM2555.17 1615.62h3.12v3.12h-3.12zM2564.55 1615.62h3.12v3.12h-3.12zM2555.17 1618.75h3.12v3.12h-3.12zM2564.55 1618.75h3.12v3.12h-3.12zM2555.17 1621.88h3.12v3.12h-3.12zM2564.55 1621.88h3.12v3.12h-3.12zM2558.30 1625.00h6.25v3.12h-6.25zM2555.17 1615.62h3.12v9.38h-3.12zM2564.55 1615.62h3.12v9.38h-3.12zM2574.10 1612.50h9.38v3.12h-9.38zM2574.10 1615.62h3.12v3.12h-3.12zM2574.10 1618.75h3.12v3.12h-3.12zM2574.10 1621.88h3.12v3.12h-3.12zM2574.10 1625.00h3.12v3.12h-3.12zM2574.10 1612.50h3.12v15.62h-3.12zM2586.09 1612.50h21.88v3.12h-21.88zM2586.09 1615.62h3.12v3.12h-3.12zM2595.47 1615.62h3.12v3.12h-3.12zM2604.84 1615.62h3.12v3.12h-3.12zM2586.09 1618.75h3.12v3.12h-3.12zM2595.47 1618.75h3.12v3.12h-3.12zM2604.84 1618.75h3.12v3.12h-3.12zM2586.09 1621.88h3.12v3.12h-3.12zM2595.47 1621.88h3.12v3.12h-3.12zM2604.84 1621.88h3.12v3.12h-3.12zM2586.09 1625.00h3.12v3.12h-3.12zM2595.47 1625.00h3.12v3.12h-3.12zM2604.84 1625.00h3.12v3.12h-3.12zM2586.09 1612.50h3.12v15.62h-3.12zM2595.47 1612.50h3.12v15.62h-3.12zM2604.84 1612.50h3.12v15.62h-3.12zM2614.15 1612.50h9.38v3.12h-9.38zM2614.15 1615.62h3.12v3.12h-3.12zM2617.28 1618.75h6.25v3.12h-6.25zM2620.40 1621.88h3.12v3.12h-3.12zM2614.15 1625.00h9.38v3.12h-9.38zM2614.15 1612.50h3.12v6.25h-3.12zM2620.40 1618.75h3.12v9.38h-3.12zM2639.04 1606.25h9.38v3.12h-9.38zM2639.04 1609.38h3.12v3.12h-3.12zM2648.41 1609.38h3.12v3.12h-3.12zM2639.04 1612.50h3.12v3.12h-3.12zM2648.41 1612.50h3.12v3.12h-3.12zM2639.04 1615.62h9.38v3.12h-9.38zM2639.04 1618.75h3.12v3.12h-3.12zM2639.04 1621.88h3.12v3.12h-3.12zM2639.04 1625.00h3.12v3.12h-3.12zM2639.04 1606.25h3.12v21.88h-3.12zM2648.41 1609.38h3.12v6.25h-3.12zM2657.98 1612.50h9.38v3.12h-9.38zM2657.98 1615.62h3.12v3.12h-3.12zM2657.98 1618.75h3.12v3.12h-3.12zM2657.98 1621.88h3.12v3.12h-3.12zM2657.98 1625.00h3.12v3.12h-3.12zM2657.98 1612.50h3.12v15.62h-3.12zM2674.24 1612.50h6.25v3.12h-6.25zM2671.12 1615.62h3.12v3.12h-3.12zM2680.49 1615.62h3.12v3.12h-3.12zM2671.12 1618.75h3.12v3.12h-3.12zM2680.49 1618.75h3.12v3.12h-3.12zM2671.12 1621.88h3.12v3.12h-3.12zM2680.49 1621.88h3.12v3.12h-3.12zM2674.24 1625.00h6.25v3.12h-6.25zM2671.12 1615.62h3.12v9.38h-3.12zM2680.49 1615.62h3.12v9.38h-3.12zM2688.93 1606.25h3.12v3.12h-3.12zM2688.93 1612.50h3.12v3.12h-3.12zM2688.93 1615.62h3.12v3.12h-3.12zM2688.93 1618.75h3.12v3.12h-3.12zM2688.93 1621.88h3.12v3.12h-3.12zM2688.93 1625.00h3.12v3.12h-3.12zM2688.93 1628.12h3.12v3.12h-3.12zM2685.80 1631.25h6.25v3.12h-6.25zM2688.93 1612.50h3.12v21.88h-3.12zM2702.07 1612.50h6.25v3.12h-6.25zM2698.95 1615.62h3.12v3.12h-3.12zM2708.32 1615.62h3.12v3.12h-3.12zM2698.95 1618.75h12.50v3.12h-12.50zM2698.95 1621.88h3.12v3.12h-3.12zM2702.07 1625.00h9.38v3.12h-9.38zM2698.95 1615.62h3.12v9.38h-3.12zM2708.32 1615.62h3.12v6.25h-3.12zM2720.43 1612.50h9.38v3.12h-9.38zM2717.30 1615.62h3.12v3.12h-3.12zM2717.30 1618.75h3.12v3.12h-3.12zM2717.30 1621.88h3.12v3.12h-3.12zM2720.43 1625.00h9.38v3.12h-9.38zM2717.30 1615.62h3.12v9.38h-3.12zM2736.09 1609.38h3.12v3.12h-3.12zM2732.96 1612.50h12.50v3.12h-12.50zM2736.09 1615.62h3.12v3.12h-3.12zM2736.09 1618.75h3.12v3.12h-3.12zM2736.09 1621.88h3.12v3.12h-3.12zM2736.09 1625.00h9.38v3.12h-9.38zM2736.09 1609.38h3.12v18.75h-3.12zM2752.20 1612.50h6.25v3.12h-6.25zM2749.07 1615.62h3.12v3.12h-3.12zM2758.45 1615.62h3.12v3.12h-3.12zM2749.07 1618.75h12.50v3.12h-12.50zM2749.07 1621.88h3.12v3.12h-3.12zM2752.20 1625.00h9.38v3.12h-9.38zM2749.07 1615.62h3.12v9.38h-3.12zM2758.45 1615.62h3.12v6.25h-3.12zM2776.53 1603.12h3.12v3.12h-3.12zM2776.53 1606.25h3.12v3.12h-3.12zM2776.53 1609.38h3.12v3.12h-3.12zM2770.28 1612.50h9.38v3.12h-9.38zM2767.15 1615.62h3.12v3.12h-3.12zM2776.53 1615.62h3.12v3.12h-3.12zM2767.15 1618.75h3.12v3.12h-3.12zM2776.53 1618.75h3.12v3.12h-3.12zM2767.15 1621.88h3.12v3.12h-3.12zM2776.53 1621.88h3.12v3.12h-3.12zM2770.28 1625.00h9.38v3.12h-9.38zM2767.15 1615.62h3.12v9.38h-3.12zM2776.53 1603.12h3.12v25.00h-3.12zM2799.18 1606.25h9.38v3.12h-9.38zM2796.06 1609.38h6.25v3.12h-6.25zM2808.56 1609.38h3.12v3.12h-3.12zM2796.06 1612.50h3.12v3.12h-3.12zM2796.06 1615.62h3.12v3.12h-3.12zM2805.43 1615.62h6.25v3.12h-6.25zM2796.06 1618.75h3.12v3.12h-3.12zM2808.56 1618.75h3.12v3.12h-3.12zM2796.06 1621.88h6.25v3.12h-6.25zM2808.56 1621.88h3.12v3.12h-3.12zM2799.18 1625.00h9.38v3.12h-9.38zM2796.06 1609.38h3.12v15.62h-3.12zM2799.18 1606.25h3.12v6.25h-3.12zM2799.18 1621.88h3.12v6.25h-3.12zM2808.56 1615.62h3.12v9.38h-3.12zM2817.09 1612.50h9.38v3.12h-9.38zM2817.09 1615.62h3.12v3.12h-3.12zM2817.09 1618.75h3.12v3.12h-3.12zM2817.09 1621.88h3.12v3.12h-3.12zM2817.09 1625.00h3.12v3.12h-3.12zM2817.09 1612.50h3.12v15.62h-3.12zM2833.20 1612.50h6.25v3.12h-6.25zM2830.07 1615.62h3.12v3.12h-3.12zM2839.45 1615.62h3.12v3.12h-3.12zM2830.07 1618.75h3.12v3.12h-3.12zM2839.45 1618.75h3.12v3.12h-3.12zM2830.07 1621.88h3.12v3.12h-3.12zM2839.45 1621.88h3.12v3.12h-3.12zM2833.20 1625.00h6.25v3.12h-6.25zM2830.07 1615.62h3.12v9.38h-3.12zM2839.45 1615.62h3.12v9.38h-3.12zM2846.18 1612.50h3.12v3.12h-3.12zM2855.55 1612.50h3.12v3.12h-3.12zM2864.93 1612.50h3.12v3.12h-3.12zM2846.18 1615.62h3.12v3.12h-3.12zM2852.43 1615.62h3.12v3.12h-3.12zM2858.68 1615.62h3.12v3.12h-3.12zM2864.93 1615.62h3.12v3.12h-3.12zM2846.18 1618.75h3.12v3.12h-3.12zM2852.43 1618.75h3.12v3.12h-3.12zM2858.68 1618.75h3.12v3.12h-3.12zM2864.93 1618.75h3.12v3.12h-3.12zM2849.30 1621.88h3.12v3.12h-3.12zM2861.80 1621.88h3.12v3.12h-3.12zM2849.30 1625.00h3.12v3.12h-3.12zM2861.80 1625.00h3.12v3.12h-3.12zM2846.18 1612.50h3.12v9.38h-3.12zM2849.30 1621.88h3.12v6.25h-3.12zM2852.43 1615.62h3.12v6.25h-3.12zM2858.68 1615.62h3.12v6.25h-3.12zM2861.80 1621.88h3.12v6.25h-3.12zM2864.93 1612.50h3.12v9.38h-3.12zM2871.12 1609.38h3.12v3.12h-3.12zM2868.00 1612.50h12.50v3.12h-12.50zM2871.12 1615.62h3.12v3.12h-3.12zM2871.12 1618.75h3.12v3.12h-3.12zM2871.12 1621.88h3.12v3.12h-3.12zM2871.12 1625.00h9.38v3.12h-9.38zM2871.12 1609.38h3.12v18.75h-3.12zM2883.30 1603.12h3.12v3.12h-3.12zM2883.30 1606.25h3.12v3.12h-3.12zM2883.30 1609.38h3.12v3.12h-3.12zM2883.30 1612.50h12.50v3.12h-12.50zM2883.30 1615.62h3.12v3.12h-3.12zM2892.68 1615.62h3.12v3.12h-3.12zM2883.30 1618.75h3.12v3.12h-3.12zM2892.68 1618.75h3.12v3.12h-3.12zM2883.30 1621.88h3.12v3.12h-3.12zM2892.68 1621.88h3.12v3.12h-3.12zM2883.30 1625.00h3.12v3.12h-3.12zM2892.68 1625.00h3.12v3.12h-3.12zM2883.30 1603.12h3.12v25.00h-3.12zM2892.68 1612.50h3.12v15.62h-3.12z"/>
</svg>
<div id="txt">
<div class="t" style="left:404.48px;top:113px;font-size:56.165px;font-weight:bold;">Student Growth Summary Report</div>
<div class="t" style="left:422.51px;top:213px;font-size:43.602px;font-weight:bold;">Aggregate by School</div>
<div class="t" style="left:1316.15px;top:210px;font-size:31.162px;font-weight:bold;">Term:</div>
<div class="t" style="left:1315.71px;top:247px;font-size:31.244px;font-weight:bold;">District:</div>
<div class="t" style="left:1502.48px;top:209px;font-size:31.242px;-webkit-text-stroke:0.35px #000;">Spring 2020-202<span class="o">1</span></div>
<div class="t" style="left:1502.33px;top:246px;font-size:31.336px;-webkit-text-stroke:0.35px #000;">NWEA Sample District 62</div>
<div class="t" style="left:2215.81px;top:210px;font-size:31.243px;font-weight:bold;">Norms Reference Data:</div>
<div class="t" style="left:2216.02px;top:247px;font-size:31.255px;font-weight:bold;">Growth Comparison Period:</div>
<div class="t" style="left:2216.47px;top:284px;font-size:31.209px;font-weight:bold;">Weeks of Instruction:</div>
<div class="t" style="left:2215.62px;top:381px;font-size:31.263px;font-weight:bold;">Grouping:</div>
<div class="t" style="left:2216.00px;top:418px;font-size:31.21px;font-weight:bold;">Small Group Display:</div>
<div class="t" style="left:2699.33px;top:208px;font-size:31.224px;-webkit-text-stroke:0.35px #000;">2020 and User Norms</div>
<div class="t" style="left:2699.35px;top:246px;font-size:31.105px;-webkit-text-stroke:0.35px #000;">Fall 2020 - Spring 202<span class="o">1</span></div>
<div class="t" style="left:2699.98px;top:289px;font-size:31.244px;-webkit-text-stroke:0.35px #000;">Start -</div>
<div class="t" style="left:2841.50px;top:290px;font-size:30.75px;-webkit-text-stroke:0.35px #000;">4</div>
<div class="t" style="left:2872.07px;top:289px;font-size:31.158px;-webkit-text-stroke:0.35px #000;">(Fall 2020)</div>
<div class="t" style="left:2698.81px;top:338px;font-size:31.589px;-webkit-text-stroke:0.35px #000;">End -</div>
<div class="t" style="left:2823.70px;top:338px;font-size:31.824px;-webkit-text-stroke:0.35px #000;">32</div>
<div class="t" style="left:2872.07px;top:338px;font-size:31.138px;-webkit-text-stroke:0.35px #000;">(Spring 202<span class="o">1</span>)</div>
<div class="t" style="left:2698.81px;top:380px;font-size:31.589px;-webkit-text-stroke:0.35px #000;">None</div>
<div class="t" style="left:2698.77px;top:417px;font-size:32.049px;-webkit-text-stroke:0.35px #000;">No</div>
<div class="t" style="left:46.87px;top:511px;font-size:43.729px;font-weight:bold;">Mesa Verde Elementary School</div>
<div class="t" style="left:51.28px;top:582px;font-size:34.367px;-webkit-text-stroke:0.35px #000;">Math: Math K-<span class="o">1</span>2</div>
<div class="t" style="left:1142.62px;top:625px;font-size:31.2px;font-weight:bold;">Comparison Periods</div>
<div class="t" style="left:2426.32px;top:625px;font-size:31.2px;font-weight:bold;">Growth Evaluated Against</div>
<div class="t" style="left:3007.01px;top:211px;font-size:18.5px;-webkit-text-stroke:0.35px #000;"><span class="o">1</span></div>
<div class="t" style="left:3018.33px;top:210px;font-size:30.75px;-webkit-text-stroke:0.35px #000;">.</div>
<div class="t" style="left:760.58px;top:665px;font-size:31.2px;font-weight:bold;">Fall 2020</div>
<div class="t" style="left:1316.10px;top:665px;font-size:31.2px;font-weight:bold;">Spring 202<span class="ob">1</span></div>
<div class="t" style="left:1818.74px;top:665px;font-size:31.2px;font-weight:bold;">Growth</div>
<div class="t" style="left:2154.88px;top:665px;font-size:31.2px;font-weight:bold;">Grade-Level Norms</div>
<div class="t" style="left:2752.69px;top:665px;font-size:31.2px;font-weight:bold;">Student Norms</div>
<div class="t" style="left:96.64px;top:796px;font-size:31.1px;-webkit-text-stroke:0.35px #000;">Grade</div>
<div class="t" style="left:195.47px;top:796px;font-size:31.1px;-webkit-text-stroke:0.35px #000;">(Spring 202<span class="o">1</span>)</div>
<div class="t" style="left:429.92px;top:723px;font-size:31.1px;-webkit-text-stroke:0.35px #000;">Total</div>
<div class="t" style="left:407.78px;top:760px;font-size:31.1px;-webkit-text-stroke:0.35px #000;">Number</div>
<div class="t" style="left:450.16px;top:796px;font-size:31.1px;-webkit-text-stroke:0.35px #000;">of</div>
<div class="t" style="left:414.31px;top:832px;font-size:31.1px;-webkit-text-stroke:0.35px #000;">Growth</div>
<div class="t" style="left:411.99px;top:868px;font-size:31.1px;-webkit-text-stroke:0.35px #000;">Events‡</div>
<div class="t" style="left:560.84px;top:760px;font-size:31.1px;-webkit-text-stroke:0.35px #000;">Mean</div>
<div class="t" style="left:574.53px;top:796px;font-size:31.1px;-webkit-text-stroke:0.35px #000;">RIT</div>
<div class="t" style="left:563.46px;top:832px;font-size:31.1px;-webkit-text-stroke:0.35px #000;">Score</div>
<div class="t" style="left:714.18px;top:778px;font-size:31.1px;-webkit-text-stroke:0.35px #000;">Standard</div>
<div class="t" style="left:716.41px;top:814px;font-size:31.1px;-webkit-text-stroke:0.35px #000;">Deviation</div>
<div class="t" style="left:911.49px;top:778px;font-size:31.1px;-webkit-text-stroke:0.35px #000;">Achievement</div>
<div class="t" style="left:936.47px;top:814px;font-size:31.1px;-webkit-text-stroke:0.35px #000;">Percentile</div>
<div class="t" style="left:1141.64px;top:760px;font-size:31.1px;-webkit-text-stroke:0.35px #000;">Mean</div>
<div class="t" style="left:1155.23px;top:796px;font-size:31.1px;-webkit-text-stroke:0.35px #000;">RIT</div>
<div class="t" style="left:1144.56px;top:832px;font-size:31.1px;-webkit-text-stroke:0.35px #000;">Score</div>
<div class="t" style="left:1295.08px;top:778px;font-size:31.1px;-webkit-text-stroke:0.35px #000;">Standard</div>
<div class="t" style="left:1297.21px;top:814px;font-size:31.1px;-webkit-text-stroke:0.35px #000;">Deviation</div>
<div class="t" style="left:1489.09px;top:778px;font-size:31.1px;-webkit-text-stroke:0.35px #000;">Achievement</div>
<div class="t" style="left:1512.97px;top:814px;font-size:31.1px;-webkit-text-stroke:0.35px #000;">Percentile</div>
<div class="t" style="left:1737.25px;top:778px;font-size:31.1px;-webkit-text-stroke:0.35px #000;">Observed</div>
<div class="t" style="left:1759.21px;top:814px;font-size:31.1px;-webkit-text-stroke:0.35px #000;">Growth</div>
<div class="t" style="left:1922.60px;top:760px;font-size:31.1px;letter-spacing:-0.7px;-webkit-text-stroke:0.35px #000;">Observed</div>
<div class="t" style="left:1937.61px;top:796px;font-size:31.1px;-webkit-text-stroke:0.35px #000;">Growth</div>
<div class="t" style="left:1966.82px;top:832px;font-size:31.1px;-webkit-text-stroke:0.35px #000;">SE</div>
<div class="t" style="left:2066.53px;top:760px;font-size:31.1px;-webkit-text-stroke:0.35px #000;">Projected</div>
<div class="t" style="left:2084.89px;top:796px;font-size:31.1px;-webkit-text-stroke:0.35px #000;">School</div>
<div class="t" style="left:2086.81px;top:832px;font-size:31.1px;-webkit-text-stroke:0.35px #000;">Growth</div>
<div class="t" style="left:2245.59px;top:741px;font-size:31.1px;-webkit-text-stroke:0.35px #000;">School</div>
<div class="t" style="left:2216.15px;top:778px;font-size:31.1px;-webkit-text-stroke:0.35px #000;">Conditional</div>
<div class="t" style="left:2243.01px;top:814px;font-size:31.1px;-webkit-text-stroke:0.35px #000;">Growth</div>
<div class="t" style="left:2258.29px;top:850px;font-size:31.1px;-webkit-text-stroke:0.35px #000;">Index</div>
<div class="t" style="left:2407.59px;top:741px;font-size:31.1px;-webkit-text-stroke:0.35px #000;">School</div>
<div class="t" style="left:2378.65px;top:778px;font-size:31.1px;-webkit-text-stroke:0.35px #000;">Conditional</div>
<div class="t" style="left:2405.11px;top:814px;font-size:31.1px;-webkit-text-stroke:0.35px #000;">Growth</div>
<div class="t" style="left:2389.27px;top:850px;font-size:31.1px;-webkit-text-stroke:0.35px #000;">Percentile</div>
<div class="t" style="left:2544.71px;top:723px;font-size:31.1px;-webkit-text-stroke:0.35px #000;">Number of</div>
<div class="t" style="left:2557.38px;top:760px;font-size:31.1px;-webkit-text-stroke:0.35px #000;">Students</div>
<div class="t" style="left:2588.74px;top:796px;font-size:31.1px;-webkit-text-stroke:0.35px #000;">With</div>
<div class="t" style="left:2569.01px;top:832px;font-size:31.1px;-webkit-text-stroke:0.35px #000;">Growth</div>
<div class="t" style="left:2545.66px;top:868px;font-size:31.1px;-webkit-text-stroke:0.35px #000;">Projections</div>
<div class="t" style="left:2705.81px;top:705px;font-size:31.1px;-webkit-text-stroke:0.35px #000;">Number of</div>
<div class="t" style="left:2717.68px;top:741px;font-size:31.1px;-webkit-text-stroke:0.35px #000;">Students</div>
<div class="t" style="left:2717.03px;top:778px;font-size:31.1px;-webkit-text-stroke:0.35px #000;">Who Met</div>
<div class="t" style="left:2743.68px;top:814px;font-size:31.1px;-webkit-text-stroke:0.35px #000;">Their</div>
<div class="t" style="left:2729.61px;top:850px;font-size:31.1px;-webkit-text-stroke:0.35px #000;">Growth</div>
<div class="t" style="left:2713.99px;top:886px;font-size:31.1px;-webkit-text-stroke:0.35px #000;">Projection</div>
<div class="t" style="left:2864.58px;top:705px;font-size:31.1px;-webkit-text-stroke:0.35px #000;">Percentage</div>
<div class="t" style="left:2927.46px;top:741px;font-size:31.1px;-webkit-text-stroke:0.35px #000;">of</div>
<div class="t" style="left:2879.88px;top:778px;font-size:31.1px;-webkit-text-stroke:0.35px #000;">Students</div>
<div class="t" style="left:2879.43px;top:814px;font-size:31.1px;-webkit-text-stroke:0.35px #000;">Who Met</div>
<div class="t" style="left:2891.51px;top:850px;font-size:31.1px;-webkit-text-stroke:0.35px #000;">Growth</div>
<div class="t" style="left:2875.79px;top:886px;font-size:31.1px;-webkit-text-stroke:0.35px #000;">Projection</div>
<div class="t" style="left:3047.70px;top:723px;font-size:31.1px;-webkit-text-stroke:0.35px #000;">Student</div>
<div class="t" style="left:3050.63px;top:760px;font-size:31.1px;-webkit-text-stroke:0.35px #000;">Median</div>
<div class="t" style="left:3027.25px;top:796px;font-size:31.1px;-webkit-text-stroke:0.35px #000;">Conditional</div>
<div class="t" style="left:3052.01px;top:832px;font-size:31.1px;-webkit-text-stroke:0.35px #000;">Growth</div>
<div class="t" style="left:3036.87px;top:868px;font-size:31.1px;-webkit-text-stroke:0.35px #000;">Percentile</div>
<div class="t" style="left:95.91px;top:926px;font-size:31.2px;font-weight:bold;">K</div>
<div class="t" style="left:451.30px;top:926px;font-size:31.2px;font-weight:bold;">47</div>
<div class="t" style="left:562.32px;top:926px;font-size:31.2px;font-weight:bold;"><span class="ob">1</span>4<span class="ob">1</span>.5</div>
<div class="t" style="left:748.02px;top:926px;font-size:31.2px;font-weight:bold;"><span class="ob">1</span>5.6</div>
<div class="t" style="left:985.36px;top:926px;font-size:31.2px;font-weight:bold;">64</div>
<div class="t" style="left:1140.06px;top:926px;font-size:31.2px;font-weight:bold;"><span class="ob">1</span>59.9</div>
<div class="t" style="left:1330.24px;top:926px;font-size:31.2px;font-weight:bold;"><span class="ob">1</span>4.<span class="ob">1</span></div>
<div class="t" style="left:1564.26px;top:926px;font-size:31.2px;font-weight:bold;">7<span class="ob">1</span></div>
<div class="t" style="left:1775.45px;top:926px;font-size:31.2px;font-weight:bold;"><span class="ob">1</span>8</div>
<div class="t" style="left:1965.98px;top:926px;font-size:31.2px;font-weight:bold;">0.8</div>
<div class="t" style="left:2105.52px;top:926px;font-size:31.2px;font-weight:bold;"><span class="ob">1</span>7.3</div>
<div class="t" style="left:2267.30px;top:926px;font-size:31.2px;font-weight:bold;">0.5<span class="ob">1</span></div>
<div class="t" style="left:2442.06px;top:926px;font-size:31.2px;font-weight:bold;">69</div>
<div class="t" style="left:2606.20px;top:926px;font-size:31.2px;font-weight:bold;">47</div>
<div class="t" style="left:2766.51px;top:926px;font-size:31.2px;font-weight:bold;">32</div>
<div class="t" style="left:2928.06px;top:926px;font-size:31.2px;font-weight:bold;">68</div>
<div class="t" style="left:3089.00px;top:926px;font-size:31.2px;font-weight:bold;">62</div>
<div class="t" style="left:95.24px;top:969px;font-size:31.2px;font-weight:bold;"><span class="ob">1</span></div>
<div class="t" style="left:451.30px;top:969px;font-size:31.2px;font-weight:bold;">48</div>
<div class="t" style="left:562.32px;top:969px;font-size:31.2px;font-weight:bold;"><span class="ob">1</span>65.3</div>
<div class="t" style="left:748.02px;top:969px;font-size:31.2px;font-weight:bold;"><span class="ob">1</span>3.9</div>
<div class="t" style="left:985.36px;top:969px;font-size:31.2px;font-weight:bold;">82</div>
<div class="t" style="left:1140.06px;top:969px;font-size:31.2px;font-weight:bold;"><span class="ob">1</span>8<span class="ob">1</span>.9</div>
<div class="t" style="left:1330.24px;top:969px;font-size:31.2px;font-weight:bold;"><span class="ob">1</span>4.2</div>
<div class="t" style="left:1564.26px;top:969px;font-size:31.2px;font-weight:bold;">8<span class="ob">1</span></div>
<div class="t" style="left:1775.45px;top:969px;font-size:31.2px;font-weight:bold;"><span class="ob">1</span>7</div>
<div class="t" style="left:1965.98px;top:969px;font-size:31.2px;font-weight:bold;">0.8</div>
<div class="t" style="left:2105.52px;top:969px;font-size:31.2px;font-weight:bold;"><span class="ob">1</span>6.2</div>
<div class="t" style="left:2267.30px;top:969px;font-size:31.2px;font-weight:bold;">0.<span class="ob">1</span>6</div>
<div class="t" style="left:2442.06px;top:969px;font-size:31.2px;font-weight:bold;">56</div>
<div class="t" style="left:2606.20px;top:969px;font-size:31.2px;font-weight:bold;">48</div>
<div class="t" style="left:2766.51px;top:969px;font-size:31.2px;font-weight:bold;">28</div>
<div class="t" style="left:2928.06px;top:969px;font-size:31.2px;font-weight:bold;">58</div>
<div class="t" style="left:3089.00px;top:969px;font-size:31.2px;font-weight:bold;">60</div>
<div class="t" style="left:96.92px;top:1013px;font-size:31.2px;font-weight:bold;">2</div>
<div class="t" style="left:451.30px;top:1013px;font-size:31.2px;font-weight:bold;">58</div>
<div class="t" style="left:562.32px;top:1013px;font-size:31.2px;font-weight:bold;"><span class="ob">1</span>79.2</div>
<div class="t" style="left:748.02px;top:1013px;font-size:31.2px;font-weight:bold;"><span class="ob">1</span>5.9</div>
<div class="t" style="left:985.36px;top:1013px;font-size:31.2px;font-weight:bold;">76</div>
<div class="t" style="left:1140.06px;top:1013px;font-size:31.2px;font-weight:bold;"><span class="ob">1</span>92.2</div>
<div class="t" style="left:1330.24px;top:1013px;font-size:31.2px;font-weight:bold;"><span class="ob">1</span>6.5</div>
<div class="t" style="left:1564.26px;top:1013px;font-size:31.2px;font-weight:bold;">67</div>
<div class="t" style="left:1775.45px;top:1013px;font-size:31.2px;font-weight:bold;"><span class="ob">1</span>3</div>
<div class="t" style="left:1965.98px;top:1013px;font-size:31.2px;font-weight:bold;">0.8</div>
<div class="t" style="left:2105.52px;top:1013px;font-size:31.2px;font-weight:bold;"><span class="ob">1</span>4.4</div>
<div class="t" style="left:2262.11px;top:1013px;font-size:31.2px;font-weight:bold;">-0.62</div>
<div class="t" style="left:2442.06px;top:1013px;font-size:31.2px;font-weight:bold;">27</div>
<div class="t" style="left:2606.20px;top:1013px;font-size:31.2px;font-weight:bold;">58</div>
<div class="t" style="left:2766.51px;top:1013px;font-size:31.2px;font-weight:bold;">27</div>
<div class="t" style="left:2928.06px;top:1013px;font-size:31.2px;font-weight:bold;">47</div>
<div class="t" style="left:3089.00px;top:1013px;font-size:31.2px;font-weight:bold;">40</div>
<div class="t" style="left:97.28px;top:1057px;font-size:31.2px;font-weight:bold;">3</div>
<div class="t" style="left:451.30px;top:1057px;font-size:31.2px;font-weight:bold;">39</div>
<div class="t" style="left:562.32px;top:1057px;font-size:31.2px;font-weight:bold;"><span class="ob">1</span>94.9</div>
<div class="t" style="left:748.02px;top:1057px;font-size:31.2px;font-weight:bold;"><span class="ob">1</span>6.7</div>
<div class="t" style="left:985.36px;top:1057px;font-size:31.2px;font-weight:bold;">86</div>
<div class="t" style="left:1140.06px;top:1057px;font-size:31.2px;font-weight:bold;">206.6</div>
<div class="t" style="left:1330.24px;top:1057px;font-size:31.2px;font-weight:bold;"><span class="ob">1</span>7.<span class="ob">1</span></div>
<div class="t" style="left:1564.26px;top:1057px;font-size:31.2px;font-weight:bold;">80</div>
<div class="t" style="left:1775.45px;top:1057px;font-size:31.2px;font-weight:bold;"><span class="ob">1</span>2</div>
<div class="t" style="left:1965.98px;top:1057px;font-size:31.2px;font-weight:bold;"><span class="ob">1</span>.0</div>
<div class="t" style="left:2105.52px;top:1057px;font-size:31.2px;font-weight:bold;"><span class="ob">1</span>2.9</div>
<div class="t" style="left:2262.11px;top:1057px;font-size:31.2px;font-weight:bold;">-0.57</div>
<div class="t" style="left:2442.06px;top:1057px;font-size:31.2px;font-weight:bold;">29</div>
<div class="t" style="left:2606.20px;top:1057px;font-size:31.2px;font-weight:bold;">39</div>
<div class="t" style="left:2766.51px;top:1057px;font-size:31.2px;font-weight:bold;">20</div>
<div class="t" style="left:2928.06px;top:1057px;font-size:31.2px;font-weight:bold;">5<span class="ob">1</span></div>
<div class="t" style="left:3089.00px;top:1057px;font-size:31.2px;font-weight:bold;">49</div>
<div class="t" style="left:97.53px;top:1100px;font-size:31.2px;font-weight:bold;">4</div>
<div class="t" style="left:442.62px;top:1100px;font-size:31.2px;font-weight:bold;"><span class="ob">1</span>43</div>
<div class="t" style="left:562.32px;top:1100px;font-size:31.2px;font-weight:bold;">204.<span class="ob">1</span></div>
<div class="t" style="left:748.02px;top:1100px;font-size:31.2px;font-weight:bold;"><span class="ob">1</span>9.3</div>
<div class="t" style="left:985.36px;top:1100px;font-size:31.2px;font-weight:bold;">75</div>
<div class="t" style="left:1140.06px;top:1100px;font-size:31.2px;font-weight:bold;">2<span class="ob">1</span>5.2</div>
<div class="t" style="left:1330.24px;top:1100px;font-size:31.2px;font-weight:bold;"><span class="ob">1</span>9.<span class="ob">1</span></div>
<div class="t" style="left:1564.26px;top:1100px;font-size:31.2px;font-weight:bold;">74</div>
<div class="t" style="left:1775.45px;top:1100px;font-size:31.2px;font-weight:bold;"><span class="ob">1</span><span class="ob">1</span></div>
<div class="t" style="left:1965.98px;top:1100px;font-size:31.2px;font-weight:bold;">0.5</div>
<div class="t" style="left:2105.52px;top:1100px;font-size:31.2px;font-weight:bold;"><span class="ob">1</span><span class="ob">1</span>.2</div>
<div class="t" style="left:2262.11px;top:1100px;font-size:31.2px;font-weight:bold;">-0.08</div>
<div class="t" style="left:2442.06px;top:1100px;font-size:31.2px;font-weight:bold;">47</div>
<div class="t" style="left:2597.52px;top:1100px;font-size:31.2px;font-weight:bold;"><span class="ob">1</span>43</div>
<div class="t" style="left:2766.51px;top:1100px;font-size:31.2px;font-weight:bold;">80</div>
<div class="t" style="left:2928.06px;top:1100px;font-size:31.2px;font-weight:bold;">56</div>
<div class="t" style="left:3089.00px;top:1100px;font-size:31.2px;font-weight:bold;">55</div>
<div class="t" style="left:87.72px;top:217px;font-size:29.4px;color:#231f20;">G</div>
<div class="t" style="left:109.96px;top:217px;font-size:29.4px;color:#231f20;">R</div>
<div class="t" style="left:131.12px;top:217px;font-size:29.4px;color:#231f20;">O</div>
<div class="t" style="left:155.31px;top:217px;font-size:29.4px;color:#231f20;">W</div>
<div class="t" style="left:184.73px;top:217px;font-size:29.4px;color:#231f20;">T</div>
<div class="t" style="left:203.53px;top:217px;font-size:29.4px;color:#231f20;">H</div>
<div class="t c" style="left:1281.08px;top:1176.70px;font-size:53.5px;letter-spacing:1.148px;transform:scaleX(1.1200);transform-origin:0 0;-webkit-text-stroke:1.5px #000;filter:blur(0.6px);">Math: Math K-12</div>
<div class="t c" style="left:1168.77px;top:1848.97px;font-size:52.0px;letter-spacing:0.391px;transform:scaleX(1.1200);transform-origin:0 0;-webkit-text-stroke:1.5px #000;filter:blur(0.6px);">Grade</div>
<div class="t c" style="left:149.50px;top:1650.19px;font-size:53.0px;letter-spacing:1.358px;-webkit-text-stroke:1.5px #000;filter:blur(0.6px);transform-origin:0 44.88px;transform:rotate(-90deg) scaleX(1.1200);">RIT Growth</div>
<div class="t" style="left:174.0px;top:1289.6px;font-size:38px;color:transparent;">19</div>
<div class="t" style="left:174.0px;top:1339.6px;font-size:38px;color:transparent;">18</div>
<div class="t" style="left:174.0px;top:1389.6px;font-size:38px;color:transparent;">17</div>
<div class="t" style="left:174.0px;top:1439.6px;font-size:38px;color:transparent;">16</div>
<div class="t" style="left:174.0px;top:1489.6px;font-size:38px;color:transparent;">15</div>
<div class="t" style="left:174.0px;top:1539.6px;font-size:38px;color:transparent;">14</div>
<div class="t" style="left:174.0px;top:1589.6px;font-size:38px;color:transparent;">13</div>
<div class="t" style="left:174.0px;top:1642.7px;font-size:38px;color:transparent;">12</div>
<div class="t" style="left:174.0px;top:1692.7px;font-size:38px;color:transparent;">11</div>
<div class="t" style="left:174.0px;top:1742.7px;font-size:38px;color:transparent;">10</div>
<div class="t" style="left:457.9px;top:1805.3px;font-size:38px;color:transparent;">K</div>
<div class="t" style="left:848.3px;top:1805.3px;font-size:38px;color:transparent;">1</div>
<div class="t" style="left:1241.9px;top:1805.3px;font-size:38px;color:transparent;">2</div>
<div class="t" style="left:1633.0px;top:1805.3px;font-size:38px;color:transparent;">3</div>
<div class="t" style="left:2027.0px;top:1805.3px;font-size:38px;color:transparent;">4</div>
<div class="t" style="left:2346.0px;top:1533.6px;font-size:30px;color:transparent;">Observed Growth</div>
<div class="t" style="left:2346.0px;top:1602.6px;font-size:30px;color:transparent;">Grade-Level Norms Projected Growth</div>
</div>
</body></html>
